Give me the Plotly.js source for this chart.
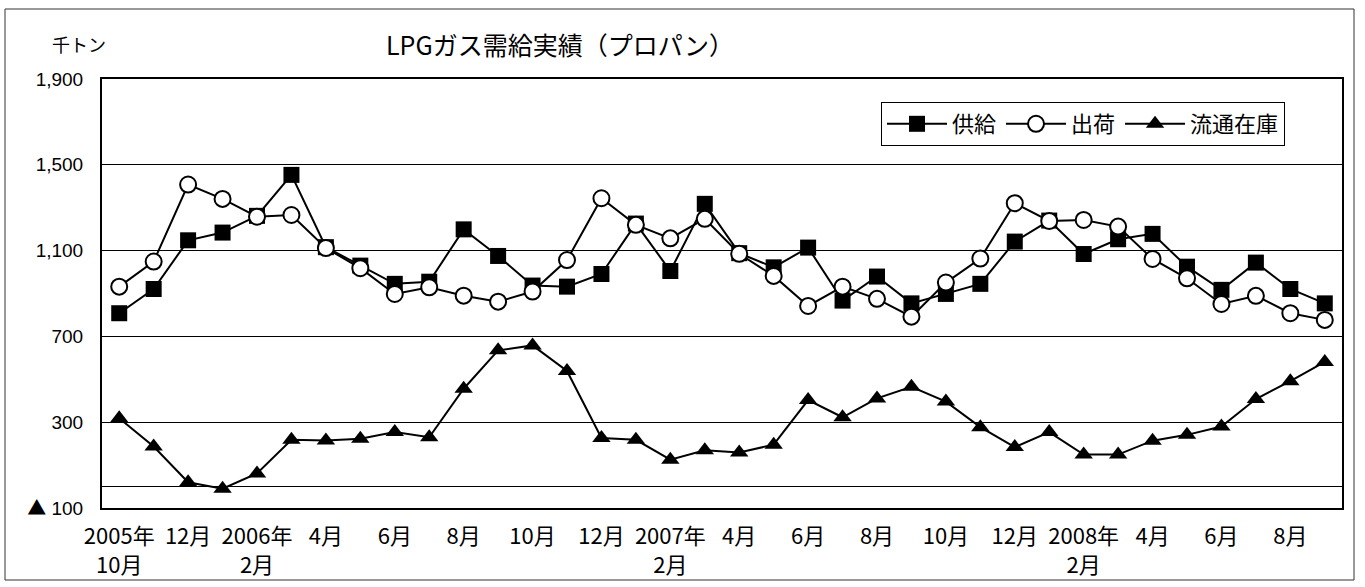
<!DOCTYPE html>
<html>
<head>
<meta charset="utf-8">
<script src="https://cdn.plot.ly/plotly-3.0.1.min.js"></script>
<style>html,body{margin:0;padding:0;background:#fff;}#chart{width:1365px;height:587px;}</style>
</head>
<body>
<div id="chart"></div>
<script>
// Months (unique category keys)
const months = ['2005-10','2005-11','2005-12','2006-01','2006-02','2006-03','2006-04','2006-05','2006-06','2006-07','2006-08','2006-09',
  '2006-10','2006-11','2006-12','2007-01','2007-02','2007-03','2007-04','2007-05','2007-06','2007-07','2007-08','2007-09',
  '2007-10','2007-11','2007-12','2008-01','2008-02','2008-03','2008-04','2008-05','2008-06','2008-07','2008-08','2008-09'];
// Tick labels shown every other month
const tickLabels = ['2005年<br>10月','12月','2006年<br>2月','4月','6月','8月','10月','12月','2007年<br>2月','4月','6月','8月','10月','12月','2008年<br>2月','4月','6月','8月'];
// 供給 (thousand tons)
const supply = [808,921,1148,1184,1262,1453,1116,1030,945,955,1199,1075,
  937,932,991,1226,1005,1318,1088,1022,1114,867,979,854,
  898,945,1142,1240,1084,1153,1178,1025,917,1044,921,854];
// 出荷
const shipment = [932,1049,1408,1341,1258,1266,1112,1018,898,929,890,862,
  909,1056,1344,1220,1157,1248,1085,982,842,932,875,792,
  951,1063,1321,1238,1243,1212,1061,971,851,889,808,777];
// 流通在庫
const inventory = [318,187,20,-10,61,218,215,223,254,230,456,635,
  658,539,226,218,125,169,159,195,403,323,411,465,
  396,277,184,254,149,149,214,241,280,408,491,581];
// Y axis ticks
const yTickVals = [-100,300,700,1100,1500,1900];
const yTickText = ['<span style="font-family:\'Noto Sans CJK JP\'">▲</span> 100','300','700','1,100','1,500','1,900'];
const seriesNames = ['供給','出荷','流通在庫'];

const tickVals = months.filter((m,i)=>i%2===0);
const boundaries = months.slice(1).map((m,i)=>i+0.5);
const cjk = '"Noto Sans CJK JP", "Noto Sans", sans-serif';

const traces = [
  {x: months, y: supply, name: seriesNames[0], type:'scatter', mode:'lines+markers',
   line:{color:'#000', width:2}, marker:{symbol:'square', size:16, color:'#000'}},
  {x: months, y: shipment, name: seriesNames[1], type:'scatter', mode:'lines+markers',
   line:{color:'#000', width:2}, marker:{symbol:'circle', size:16, color:'#fff', line:{color:'#000', width:2}}},
  {x: months, y: inventory, name: seriesNames[2], type:'scatter', mode:'lines+markers',
   line:{color:'#000', width:2}, marker:{symbol:'triangle-up', size:16, color:'#000'}}
];

const layout = {
  width:1365, height:587,
  margin:{l:102, r:23, t:79, b:79, autoexpand:false},
  paper_bgcolor:'#fff', plot_bgcolor:'#fff',
  font:{family:cjk, color:'#000'},
  showlegend:true,
  title:{text:'LPGガス需給実績（プロパン）', font:{family:cjk, size:25, color:'#000'},
         x:560/1365, xref:'container', xanchor:'center', y:1-46/587, yref:'container', yanchor:'middle'},
  xaxis:{type:'category', categoryorder:'array', categoryarray:months, range:[-0.5, months.length-0.5],
         tickmode:'array', tickvals:tickVals, ticktext:tickLabels, ticks:'',
         tickfont:{family:cjk, size:22, color:'#000'}, ticklabelstandoff:8,
         showline:true, linecolor:'#000', linewidth:2, mirror:true, showgrid:false, zeroline:false, fixedrange:true},
  xaxis2:{overlaying:'x', anchor:'free', position:0.05, type:'linear', range:[-0.5, months.length-0.5],
          tickmode:'array', tickvals:boundaries, ticks:'inside', ticklen:6, tickwidth:1, tickcolor:'#000',
          showticklabels:false, showline:false, showgrid:false, zeroline:false},
  yaxis:{range:[-100,1900], tickmode:'array', tickvals:yTickVals, ticktext:yTickText, ticks:'',
         tickfont:{family:'"Liberation Sans", Arial, sans-serif', size:19, color:'#000'}, ticklabelstandoff:13,
         showgrid:true, gridcolor:'#000', gridwidth:1,
         zeroline:true, zerolinecolor:'#000', zerolinewidth:1,
         showline:true, linecolor:'#000', linewidth:2, mirror:true, fixedrange:true},
  legend:{orientation:'h', x:(881-102)/1240, xanchor:'left', y:1-23/429, yanchor:'top',
          bordercolor:'#000', borderwidth:1, bgcolor:'#fff',
          font:{family:cjk, size:22, color:'#000'}, itemwidth:60, tracegroupgap:0},
  annotations:[{text:'千トン', xref:'paper', yref:'paper', x:(79-102)/1240, y:1+(79-44)/429,
                xanchor:'center', yanchor:'middle', showarrow:false, font:{family:cjk, size:18, color:'#000'}}],
  shapes:[{type:'rect', xref:'paper', yref:'paper', x0:(5-102)/1240, x1:(1354-102)/1240,
           y0:-(580-508)/429, y1:1+(79-9)/429, line:{color:'#333', width:1}, fillcolor:'rgba(0,0,0,0)', layer:'below'}]
};

Plotly.newPlot('chart', traces, layout, {displayModeBar:false, staticPlot:true});
</script>
</body>
</html>
